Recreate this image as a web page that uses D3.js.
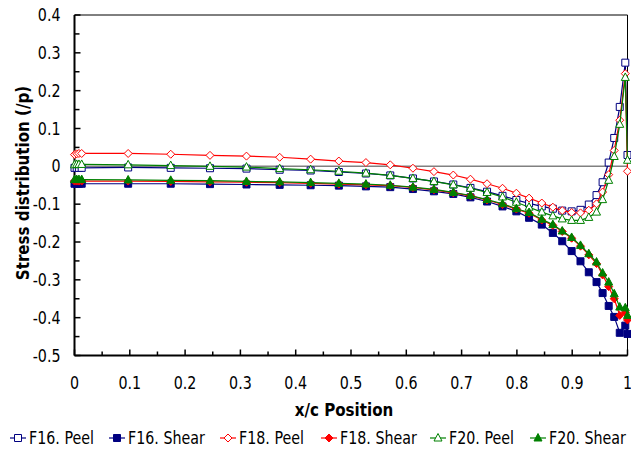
<!DOCTYPE html>
<html>
<head>
<meta charset="utf-8">
<script src="https://d3js.org/d3.v7.min.js"></script>
<style>
  body { margin: 0; background: #fff; }
  svg text { font-family: "DejaVu Sans", sans-serif; fill: #000; }
  .tick-label { font-size: 17px; }
  .axis-title { font-size: 18px; font-weight: bold; }
  .legend text { font-size: 17px; }
</style>
</head>
<body>
<svg id="chart" width="631" height="451"></svg>
<script>
// x/c positions of the mesh points (shared by every series)
var xPos = [0, 0.004, 0.008, 0.013, 0.097, 0.174, 0.245, 0.311, 0.371, 0.427, 0.478, 0.527,
            0.571, 0.612, 0.650, 0.685, 0.716, 0.746, 0.774, 0.799, 0.822, 0.845, 0.865,
            0.882, 0.899, 0.915, 0.930, 0.944, 0.955, 0.966, 0.976, 0.986, 0.996, 1.0];

var f16Peel  = [-0.004,-0.004,-0.004,-0.004,-0.003,-0.004,-0.005,-0.006,-0.009,-0.011,-0.015,-0.019,
                -0.024,-0.032,-0.040,-0.048,-0.057,-0.067,-0.078,-0.089,-0.098,-0.106,-0.112,
                -0.117,-0.119,-0.115,-0.101,-0.076,-0.042,0.010,0.075,0.157,0.274,0.030];
var f16Shear = [-0.046,-0.046,-0.046,-0.046,-0.046,-0.046,-0.047,-0.048,-0.049,-0.050,-0.051,-0.053,
                -0.055,-0.060,-0.066,-0.073,-0.082,-0.093,-0.106,-0.119,-0.136,-0.154,-0.176,
                -0.198,-0.224,-0.251,-0.280,-0.306,-0.335,-0.369,-0.398,-0.440,-0.421,-0.443];
var f18Peel  = [0.031,0.033,0.034,0.034,0.034,0.032,0.029,0.027,0.024,0.019,0.014,0.010,
                0.004,-0.005,-0.014,-0.023,-0.034,-0.046,-0.058,-0.071,-0.084,-0.097,-0.108,
                -0.117,-0.122,-0.123,-0.116,-0.099,-0.068,-0.022,0.042,0.122,0.245,-0.013];
var f18Shear = [-0.039,-0.039,-0.039,-0.039,-0.039,-0.040,-0.041,-0.042,-0.043,-0.045,-0.047,-0.049,
                -0.051,-0.056,-0.062,-0.070,-0.078,-0.089,-0.101,-0.113,-0.124,-0.142,-0.156,
                -0.172,-0.190,-0.211,-0.234,-0.257,-0.287,-0.318,-0.350,-0.394,-0.386,-0.406];
var f20Peel  = [0.004,0.005,0.005,0.005,0.004,0.002,0.000,-0.002,-0.006,-0.009,-0.013,-0.018,
                -0.024,-0.032,-0.040,-0.049,-0.058,-0.069,-0.081,-0.095,-0.108,-0.121,-0.131,
                -0.139,-0.143,-0.143,-0.135,-0.121,-0.088,-0.037,0.026,0.111,0.235,0.016];
var f20Shear = [-0.035,-0.035,-0.035,-0.035,-0.036,-0.037,-0.038,-0.040,-0.041,-0.043,-0.045,-0.047,
                -0.050,-0.055,-0.061,-0.069,-0.077,-0.088,-0.099,-0.112,-0.122,-0.140,-0.154,
                -0.171,-0.188,-0.209,-0.231,-0.253,-0.282,-0.306,-0.337,-0.372,-0.374,-0.394];

var seriesNames = ["F16. Peel", "F16. Shear", "F18. Peel", "F18. Shear", "F20. Peel", "F20. Shear"];
var xTickLabels = ["0", "0.1", "0.2", "0.3", "0.4", "0.5", "0.6", "0.7", "0.8", "0.9", "1"];
var yTickLabels = ["0.4", "0.3", "0.2", "0.1", "0", "-0.1", "-0.2", "-0.3", "-0.4", "-0.5"];

var svg = d3.select("#chart");
var plotL = 74.5, plotR = 627.5, plotT = 15, plotB = 355.5;
var squeeze = 0.84;   // fake a condensed face

var x = d3.scaleLinear().domain([0, 1]).range([plotL, plotR]);
var y = d3.scaleLinear().domain([-0.5, 0.4]).range([plotB, plotT]);

var series = [
  {name: seriesNames[0], vals: f16Peel,  color: "#000080", shape: "square",   open: true},
  {name: seriesNames[1], vals: f16Shear, color: "#000080", shape: "square",   open: false},
  {name: seriesNames[2], vals: f18Peel,  color: "#ff0000", shape: "diamond",  open: true},
  {name: seriesNames[3], vals: f18Shear, color: "#ff0000", shape: "diamond",  open: false},
  {name: seriesNames[4], vals: f20Peel,  color: "#008000", shape: "triangle", open: true},
  {name: seriesNames[5], vals: f20Shear, color: "#008000", shape: "triangle", open: false}
];

function markerPath(shape) {
  if (shape == "square") return "M-3.5,-3.5H3.5V3.5H-3.5Z";
  if (shape == "diamond") return "M0,-4L4,0L0,4L-4,0Z";
  return "M0,-4.5L4,3L-4,3Z";
}

// condensed text helper
function ctext(parent, tx, ty, str, cls, anchor, rot) {
  return parent.append("text")
    .attr("class", cls)
    .attr("text-anchor", anchor || "start")
    .attr("transform", "translate(" + tx + "," + ty + ")" + (rot ? " rotate(" + rot + ")" : "") + " scale(" + squeeze + ",1)")
    .text(str);
}

// zero line
svg.append("line")
   .attr("x1", plotL).attr("x2", plotR)
   .attr("y1", y(0)).attr("y2", y(0))
   .attr("stroke", "#808080").attr("stroke-width", 1.5);

// frame: top and right thin
svg.append("path")
   .attr("d", "M" + plotL + "," + plotT + "H" + plotR + "V" + plotB)
   .attr("fill", "none").attr("stroke", "#000").attr("stroke-width", 1);

// y axis, ticks inside every 0.05
var yTicks = d3.range(-10, 9).map(function(i) { return i * 0.05; });
var gy = svg.append("g").attr("transform", "translate(" + plotL + ",0)");
gy.append("line").attr("x1", 0).attr("x2", 0).attr("y1", plotT).attr("y2", plotB)
  .attr("stroke", "#000").attr("stroke-width", 2);
gy.selectAll(".yt").data(yTicks).enter().append("line")
  .attr("x1", 0).attr("x2", function(d, i) { return i % 2 == 0 ? 6 : 5; })
  .attr("y1", function(d) { return y(d); }).attr("y2", function(d) { return y(d); })
  .attr("stroke", "#000").attr("stroke-width", 1.5);
yTickLabels.forEach(function(d) {
  ctext(gy, -14, y(+d) + 6, d, "tick-label", "end");
});

// x axis, ticks inside every 0.05
var gx = svg.append("g").attr("transform", "translate(0," + plotB + ")");
gx.append("line").attr("x1", plotL).attr("x2", plotR).attr("y1", 0).attr("y2", 0)
  .attr("stroke", "#000").attr("stroke-width", 2);
gx.selectAll(".xt").data(d3.range(0, 21)).enter().append("line")
  .attr("x1", function(d) { return x(d * 0.05); }).attr("x2", function(d) { return x(d * 0.05); })
  .attr("y1", 0).attr("y2", function(d) { return d % 2 == 0 ? -6 : -4; })
  .attr("stroke", "#000").attr("stroke-width", 1.5);
xTickLabels.forEach(function(d) {
  ctext(gx, x(+d), 33, d, "tick-label", "middle");
});

// axis titles
ctext(svg, (plotL + plotR) / 2 - 7, 416, "x/c Position", "axis-title", "middle");
ctext(svg, 29, 183, "Stress distribution (/p)", "axis-title", "middle", -90);

// series
var line = d3.line()
  .x(function(d) { return x(d[0]); })
  .y(function(d) { return y(d[1]); });

series.forEach(function(s) {
  var pts = xPos.map(function(xv, i) { return [xv, s.vals[i]]; });
  var g = svg.append("g");
  g.append("path").datum(pts)
   .attr("d", line).attr("fill", "none")
   .attr("stroke", s.color).attr("stroke-width", 1.2);
  g.selectAll("path.m").data(pts).enter().append("path")
   .attr("class", "m")
   .attr("d", markerPath(s.shape))
   .attr("transform", function(d) { return "translate(" + x(d[0]) + "," + y(d[1]) + ")"; })
   .attr("fill", s.open ? "#fff" : s.color)
   .attr("stroke", s.color).attr("stroke-width", 1);
});

// legend
var legendX = [18, 117, 228, 329, 438, 538];
var legend = svg.append("g").attr("class", "legend");
series.forEach(function(s, i) {
  var cx = legendX[i], cy = 438;
  legend.append("line").attr("x1", cx - 8).attr("x2", cx + 8).attr("y1", cy).attr("y2", cy)
        .attr("stroke", s.color).attr("stroke-width", 1.2);
  legend.append("path").attr("d", markerPath(s.shape))
        .attr("transform", "translate(" + cx + "," + cy + ")")
        .attr("fill", s.open ? "#fff" : s.color)
        .attr("stroke", s.color).attr("stroke-width", 1);
  ctext(legend, cx + 11, cy + 6, s.name, "", "start");
});
</script>
</body>
</html>
